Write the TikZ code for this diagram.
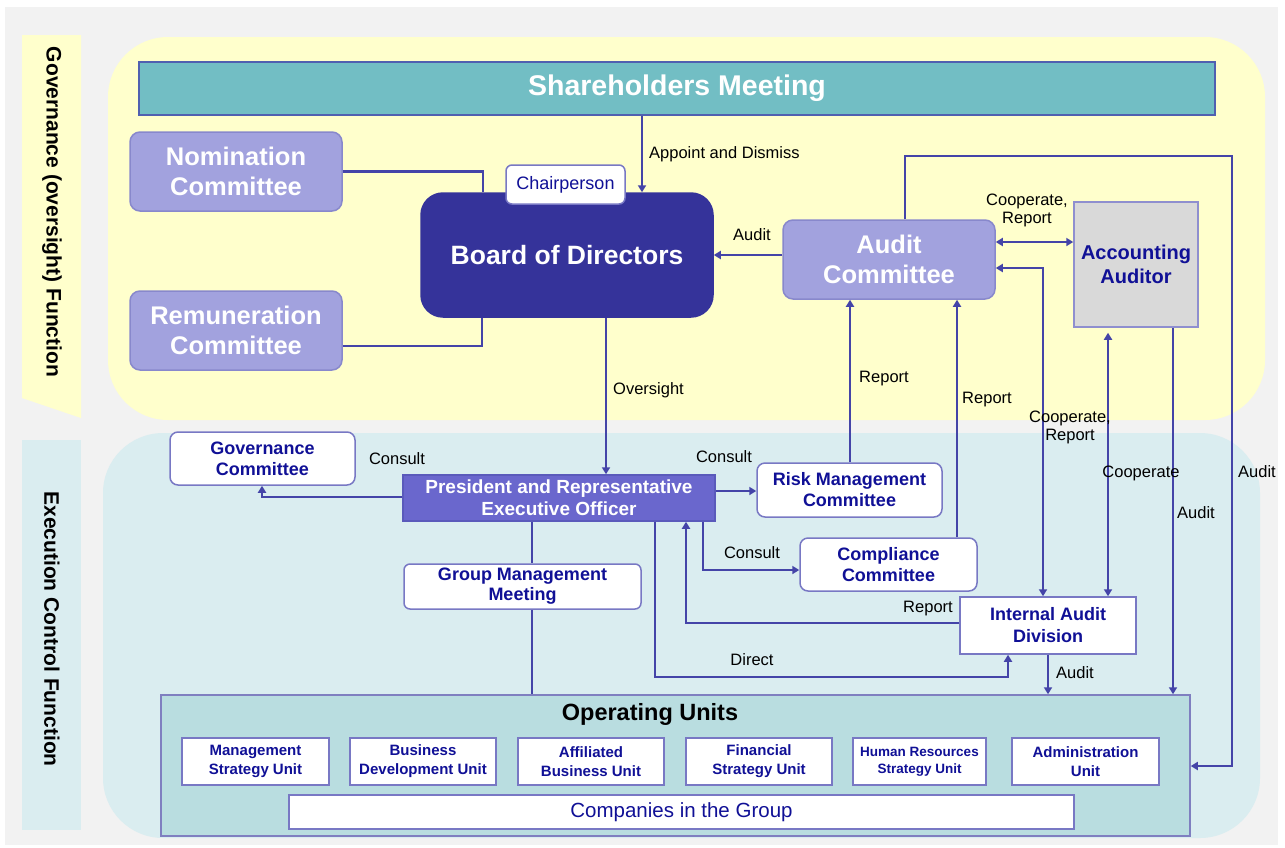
\documentclass[tikz,border=0pt]{standalone}
\usepackage{fontspec}
\setmainfont{Liberation Sans}
\usetikzlibrary{arrows.meta,calc}
\definecolor{lc}{RGB}{68,68,168}
\definecolor{bggray}{RGB}{242,242,242}
\definecolor{yel}{RGB}{255,255,204}
\definecolor{lblue}{RGB}{218,237,240}
\definecolor{teal}{RGB}{114,190,196}
\definecolor{tealb}{RGB}{80,96,176}
\definecolor{lav}{RGB}{162,162,222}
\definecolor{lavb}{RGB}{136,136,204}
\definecolor{bodc}{RGB}{53,51,154}
\definecolor{presc}{RGB}{106,103,205}
\definecolor{presb}{RGB}{90,90,187}
\definecolor{wb}{RGB}{120,120,196}
\definecolor{dtext}{RGB}{16,16,150}
\definecolor{ouc}{RGB}{185,221,224}
\definecolor{oub}{RGB}{127,127,192}
\definecolor{aac}{RGB}{217,217,217}
\definecolor{aab}{RGB}{143,143,207}
\begin{document}
\begin{tikzpicture}[x=1pt,y=-1pt,
  bx/.style={align=center, inner sep=0pt, line width=1.5pt},
  lavbox/.style={bx, fill=lav, draw=lavb, rounded corners=10pt, text=white,
    font=\fontsize{25.5}{30}\selectfont\bfseries},
  wbox/.style={bx, fill=white, draw=wb, rounded corners=8pt, text=dtext,
    font=\fontsize{18}{21}\selectfont\bfseries},
  ubox/.style={bx, fill=white, draw=wb, line width=1.8pt, text=dtext, minimum height=47pt,
    font=\fontsize{15}{19}\selectfont\bfseries},
  ln/.style={draw=lc, line width=2.3pt},
  arr/.style={ln, -{Triangle[width=8pt,length=7pt]}},
  darr/.style={ln, {Triangle[width=8pt,length=7pt]}-{Triangle[width=8pt,length=7pt]}},
  lbl/.style={font=\fontsize{16.5}{18}\selectfont, align=center, inner sep=0pt},
  side/.style={font=\fontsize{21}{24}\selectfont\bfseries, rotate=-90, inner sep=0pt}
]
\useasboundingbox (0,0) rectangle (1285,847);
\fill[white] (0,0) rectangle (1285,847);
\fill[bggray] (5,7) rectangle (1278,845);
% side bands
\fill[yel] (22,35) -- (81,35) -- (81,418) -- (22,398) -- cycle;
\fill[lblue] (22,440) rectangle (81,830);
\node[side] (govlabel) at (52,212) {Governance (oversight) Function};
\node[side] (exelabel) at (52,629) {Execution Control Function};
% regions
\fill[yel, rounded corners=60pt] (108,37) rectangle (1265,420);
\fill[lblue, rounded corners=60pt] (103,433) rectangle (1260,838);

% nodes
\node[bx, fill=teal, draw=tealb, minimum width=1076pt, minimum height=53pt, text=white,
  font=\fontsize{28.5}{32}\selectfont\bfseries] (sh) at (677,88.5) {Shareholders Meeting};
\node[lavbox, minimum width=212pt, minimum height=79pt] (nom) at (236,171.5) {Nomination\\Committee};
\node[lavbox, minimum width=212pt, minimum height=79pt] (rem) at (236,330.5) {Remuneration\\Committee};
\node[bx, fill=bodc, draw=bodc, rounded corners=22pt, minimum width=292pt, minimum height=124pt,
  text=white, font=\fontsize{26.5}{30}\selectfont\bfseries] (bod) at (567,255) {Board of Directors};
\node[bx, fill=white, draw=wb, rounded corners=6pt, minimum width=119pt, minimum height=39pt,
  text=dtext, font=\fontsize{18}{20}\selectfont] (chair) at (565.5,184.5) {Chairperson};
\node[lavbox, minimum width=212pt, minimum height=79pt] (ac) at (889,259.5) {Audit\\Committee};
\node[bx, fill=aac, draw=aab, minimum width=124pt, minimum height=125pt, text=dtext,
  font=\fontsize{20}{24}\selectfont\bfseries] (aa) at (1136,264.5) {Accounting\\Auditor};
\node[wbox, minimum width=185pt, minimum height=53pt] (gov) at (262.5,458.5) {Governance\\Committee};
\node[bx, fill=presc, draw=presb, minimum width=312pt, minimum height=46pt, text=white,
  font=\fontsize{19}{22}\selectfont\bfseries] (pres) at (559,498) {President and Representative\\Executive Officer};
\node[wbox, minimum width=185pt, minimum height=54pt] (risk) at (849.5,490) {Risk Management\\Committee};
\node[wbox, minimum width=177pt, minimum height=53pt] (comp) at (888.5,564.5) {Compliance\\Committee};
\node[wbox, rounded corners=6pt, minimum width=237pt, minimum height=45pt,
  font=\fontsize{18}{20}\selectfont\bfseries] (gmm) at (522.5,586.5) {Group Management\\Meeting};
\node[bx, fill=white, draw=wb, minimum width=176pt, minimum height=57pt, text=dtext,
  font=\fontsize{18}{22}\selectfont\bfseries] (iad) at (1048,625.5) {Internal Audit\\Division};
\node[bx, fill=ouc, draw=oub, minimum width=1029pt, minimum height=141pt] (ou) at (675.5,765.5) {};
\node[font=\fontsize{23.5}{26}\selectfont\bfseries, inner sep=0pt] (outitle) at (650,714) {Operating Units};
\node[ubox, minimum width=147pt] (u1) at (255.5,761.5) {Management\\Strategy Unit};
\node[ubox, minimum width=146pt] (u2) at (423,761.5) {Business\\Development Unit};
\node[ubox, minimum width=146pt] (u3) at (591,761.5) {Affiliated\\Business Unit};
\node[ubox, minimum width=146pt] (u4) at (759,761.5) {Financial\\Strategy Unit};
\node[ubox, minimum width=133pt, font=\fontsize{13.5}{17}\selectfont\bfseries] (u5) at (919.5,761.5) {Human Resources\\Strategy Unit};
\node[ubox, minimum width=147pt] (u6) at (1085.5,761.5) {Administration\\Unit};
\node[bx, fill=white, draw=wb, minimum width=785pt, minimum height=34pt, text=dtext,
  font=\fontsize{20.5}{24}\selectfont] (cig) at (681.5,812) {Companies in the Group};

% connectors
\draw[ln] (nom.east) -| (bod.north -| 483,0);
\draw[ln] (rem.east |- 0,346) -| (bod.south -| 482,0);
\draw[arr] (sh.south -| 642,0) -- (bod.north -| 642,0);
\draw[arr] (ac.west |- 0,255) -- (bod.east |- 0,255);
\draw[arr] (bod.south -| 606,0) -- (pres.north -| 606,0);
\draw[arr] (pres.west |- 0,497) -| (gov.south -| 262,0);
\draw[arr] (pres.east |- 0,491) -- (risk.west |- 0,491);
\draw[arr] (risk.north -| 850,0) -- (ac.south -| 850,0);
\draw[arr] (comp.north -| 957,0) -- (ac.south -| 957,0);
\draw[arr] (pres.south -| 703,0) |- (comp.west |- 0,570);
\draw[arr] (iad.west |- 0,623) -| (pres.south -| 686,0);
\draw[arr] (pres.south -| 655,0) -- ++(0,155) -| (iad.south -| 1008,0);
\draw[arr] (iad.south -| 1048,0) -- (ou.north -| 1048,0);
\draw[arr] (aa.south -| 1173,0) -- (ou.north -| 1173,0);
\coordinate (auditcorner) at (1232,156);
\draw[arr] (ac.north -| 905,0) |- (auditcorner) |- (ou.east |- 0,766);
\draw[darr, shorten >=5pt] (iad.north -| 1108,0) -- (aa.south -| 1108,0);
\draw[darr] (iad.north -| 1043,0) |- (ac.east |- 0,268);
\draw[darr] (ac.east |- 0,242) -- (aa.west |- 0,242);
\draw[ln] (pres.south -| 532,0) -- (gmm.north -| 532,0);
\draw[ln] (gmm.south -| 532,0) -- (ou.north -| 532,0);

% labels
\node[lbl, anchor=west] (l1) at (649,154) {Appoint and Dismiss};
\node[lbl] (l2) at (752,235) {Audit};
\node[lbl, anchor=west] (l3) at (613,390) {Oversight};
\node[lbl] (l4) at (397,459) {Consult};
\node[lbl] (l5) at (724,457) {Consult};
\node[lbl] (l6) at (884,379) {Report};
\node[lbl] (l7) at (987,400) {Report};
\node[lbl] (l8) at (752,553) {Consult};
\node[lbl] (l9) at (928,609) {Report};
\node[lbl] (l10) at (752,660) {Direct};
\node[lbl] (l11) at (1075,673) {Audit};
\node[lbl] (l12) at (1196,513) {Audit};
\node[lbl] (l13) at (1257,472) {Audit};
\node[lbl] (l14) at (1141,473) {Cooperate};
\node[lbl] (l15) at (1027,210) {Cooperate,\\Report};
\node[lbl] (l16) at (1070,427) {Cooperate,\\Report};
\end{tikzpicture}
\end{document}
